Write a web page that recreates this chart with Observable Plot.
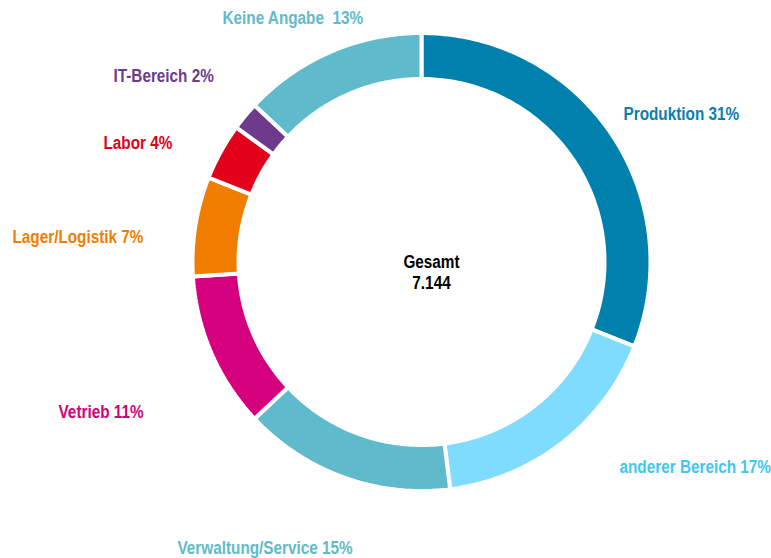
<!DOCTYPE html>
<html>
<head>
<meta charset="utf-8">
<script src="https://cdn.jsdelivr.net/npm/d3@7"></script>
<script src="https://cdn.jsdelivr.net/npm/@observablehq/plot@0.6"></script>
<style>
  html, body { margin: 0; padding: 0; background: #fff; }
  #chart svg { display: block; }
</style>
</head>
<body>
<div id="chart"></div>
<script>
// ---- data ----
const categories = ["Produktion", "anderer Bereich", "Verwaltung/Service", "Vetrieb", "Lager/Logistik", "Labor", "IT-Bereich", "Keine Angabe"];
const shares = [31, 17, 15, 11, 7, 4, 2, 13];
const labelTexts = ["Produktion 31%", "anderer Bereich 17%", "Verwaltung/Service 15%", "Vetrieb 11%", "Lager/Logistik 7%", "Labor 4%", "IT-Bereich 2%", "Keine Angabe  13%"];
const centerTitle = "Gesamt";
const centerTotal = "7.144";

// ---- styles / layout ----
const sliceColors = ["#0080ac", "#7fdcff", "#5fbbcb", "#d5007e", "#f07d00", "#e2001a", "#6e3a8b", "#5fbbcb"];
const textColors  = ["#0a80ae", "#3fc7f2", "#5fbbcb", "#d5007e", "#f07d00", "#e2001a", "#6e3a8b", "#5fbbcb"];
const labelPos = [[623,114],[619,467],[177,548],[58,412],[12,237],[103,143],[113,76],[222,18]];
const W = 771, H = 558, CX = 421, CY = 261.5, R_OUT = 229, R_IN = 183;
const NARROW = 0.85;

const pie = d3.pie().sort(null).value(d => d)(shares);
const pts = [];
pie.forEach((p, i) => {
  const n = Math.max(8, Math.ceil((p.endAngle - p.startAngle) * 60));
  for (let k = 0; k <= n; k++) {
    const a = p.startAngle + (p.endAngle - p.startAngle) * k / n;
    pts.push({cat: categories[i], col: sliceColors[i], x: R_OUT * Math.sin(a), y: -R_OUT * Math.cos(a)});
  }
  for (let k = n; k >= 0; k--) {
    const a = p.startAngle + (p.endAngle - p.startAngle) * k / n;
    pts.push({cat: categories[i], col: sliceColors[i], x: R_IN * Math.sin(a), y: -R_IN * Math.cos(a)});
  }
});

const labels = labelTexts.map((t, i) => ({t, col: textColors[i], x: labelPos[i][0] - CX, y: labelPos[i][1] - CY}));
const font = "'Liberation Sans Narrow', 'Arial Narrow', 'Liberation Sans', Arial, sans-serif";

const chart = Plot.plot({
  width: W, height: H,
  margin: 0,
  x: {domain: [-CX, W - CX], range: [0, W], axis: null},
  y: {domain: [-CY, H - CY], range: [0, H], axis: null},
  color: {type: "identity"},
  style: {fontFamily: font, background: "#fff"},
  marks: [
    Plot.line(pts, {x: "x", y: "y", z: "cat", fill: "col", stroke: "white", strokeWidth: 4, curve: "linear-closed", strokeLinejoin: "miter"}),
    Plot.text(labels, {x: "x", y: "y", text: "t", fill: "col", textAnchor: "start", fontSize: 18, fontWeight: "bold"}),
    Plot.text([centerTitle, centerTotal], {x: () => 10, y: (d, i) => i * 21.7, text: d => d, fill: "#000", fontSize: 18, fontWeight: "bold"})
  ]
});
document.getElementById("chart").appendChild(chart);
// emulate the condensed (Arial Narrow) face of the original
chart.querySelectorAll("text").forEach(t => {
  const len = t.getComputedTextLength();
  if (len > 0) {
    t.setAttribute("textLength", (len * NARROW).toFixed(1));
    t.setAttribute("lengthAdjust", "spacingAndGlyphs");
  }
});
</script>
</body>
</html>
